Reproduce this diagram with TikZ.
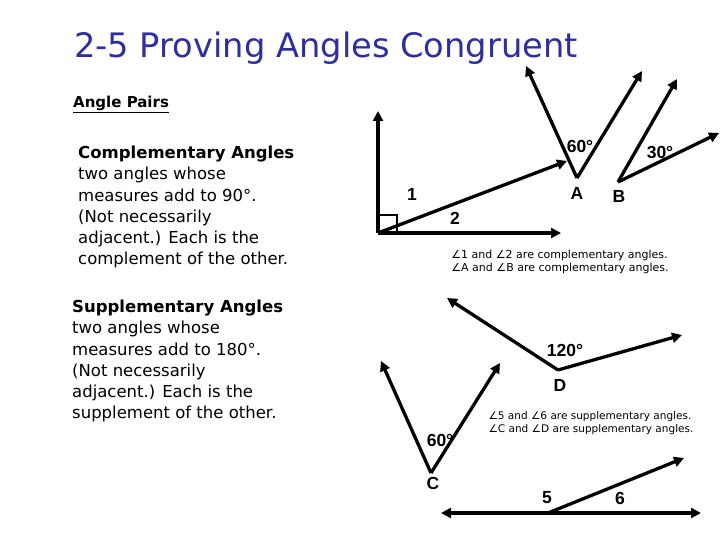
\documentclass[tikz,border=0pt]{standalone}
\usepackage{fontspec}
\setmainfont{DejaVu Sans}
\newfontfamily\lab{Liberation Sans}
\usetikzlibrary{arrows.meta}
\definecolor{titleblue}{HTML}{2E2E9E}
\begin{document}
\begin{tikzpicture}[x=1pt,y=-1pt,
  ray/.style={line width=3.3pt,-{Triangle[length=10pt,width=10pt]}},
  lbl/.style={font=\lab\bfseries\fontsize{17.5}{17.5}\selectfont},
  body/.style={font=\fontsize{16.5}{21.2}\selectfont,align=left,anchor=north west,inner sep=0pt},
  captxt/.style={font=\fontsize{11}{13}\selectfont,align=left}]
\useasboundingbox (0,0) rectangle (720,540);
\node[anchor=west,inner sep=0pt,text=titleblue,font=\fontsize{33.7}{33.7}\selectfont] (title) at (74,48) {2-5 Proving Angles Congruent};
\node[anchor=west,inner sep=0pt,font=\bfseries\fontsize{15}{15}\selectfont] (ap) at (73,104) {\underline{Angle Pairs}};
\node[body] (comp) at (78,146) {\textbf{Complementary Angles}\\two angles whose\\measures add to 90°.\\(Not necessarily\\adjacent.)  Each is the\\complement of the other.};
\node[body] (supp) at (72,300) {\textbf{Supplementary Angles}\\two angles whose\\measures add to 180°.\\(Not necessarily\\adjacent.)  Each is the\\supplement of the other.};
% right angle
\coordinate (O) at (378,233);
\coordinate (Ou) at (378,111);
\coordinate (Or) at (561,233);
\coordinate (Od) at (567,161);
\draw[ray] (O) -- (Ou);
\draw[ray] (O) -- (Or);
\draw[ray] (O) -- (Od);
\draw[line width=2.5pt] (378,215) -- (397,215) -- (397,233);
\node[lbl] (n1) at (412,194) {1};
\node[lbl] (n2) at (455,218) {2};
% angle A
\coordinate (A) at (577,178);
\coordinate (A1) at (526,66);
\coordinate (A2) at (642,71);
\draw[ray] (A) -- (A1);
\draw[ray] (A) -- (A2);
\node[lbl] (a60) at (580,146) {60°};
\node[lbl] (al) at (577,193) {A};
% angle B
\coordinate (B) at (618,182);
\coordinate (B1) at (677,79);
\coordinate (B2) at (719,133);
\draw[ray] (B) -- (B1);
\draw[ray] (B) -- (B2);
\node[lbl] (b30) at (660,152) {30°};
\node[lbl] (bl) at (619,196) {B};
\node[captxt] (c1) at (560,262) {∠1 and ∠2 are complementary angles.\\∠A and ∠B are complementary angles.};
% angle D
\coordinate (D) at (558,370);
\coordinate (D1) at (447,298);
\coordinate (D2) at (682,335);
\draw[ray] (D) -- (D1);
\draw[ray] (D) -- (D2);
\node[lbl] (d120) at (565,350) {120°};
\node[lbl] (dl) at (560,385) {D};
% angle C
\coordinate (C) at (431,473);
\coordinate (C1) at (381,361);
\coordinate (C2) at (500,363);
\draw[ray] (C) -- (C1);
\draw[ray] (C) -- (C2);
\node[lbl] (c60) at (440,440) {60°};
\node[lbl] (cl) at (433,483) {C};
\node[captxt,font=\fontsize{10.5}{13}\selectfont] (c2) at (591,423) {∠5 and ∠6 are supplementary angles.\\∠C and ∠D are supplementary angles.};
% line
\coordinate (L1) at (441,513);
\coordinate (L2) at (701,513);
\coordinate (V) at (548,513);
\coordinate (V1) at (684,458);
\draw[line width=3.3pt,{Triangle[length=10pt,width=10pt]}-{Triangle[length=10pt,width=10pt]}] (L1) -- (L2);
\draw[ray] (V) -- (V1);
\node[lbl] (n5) at (547,498) {5};
\node[lbl] (n6) at (620,498) {6};
\end{tikzpicture}
\end{document}
